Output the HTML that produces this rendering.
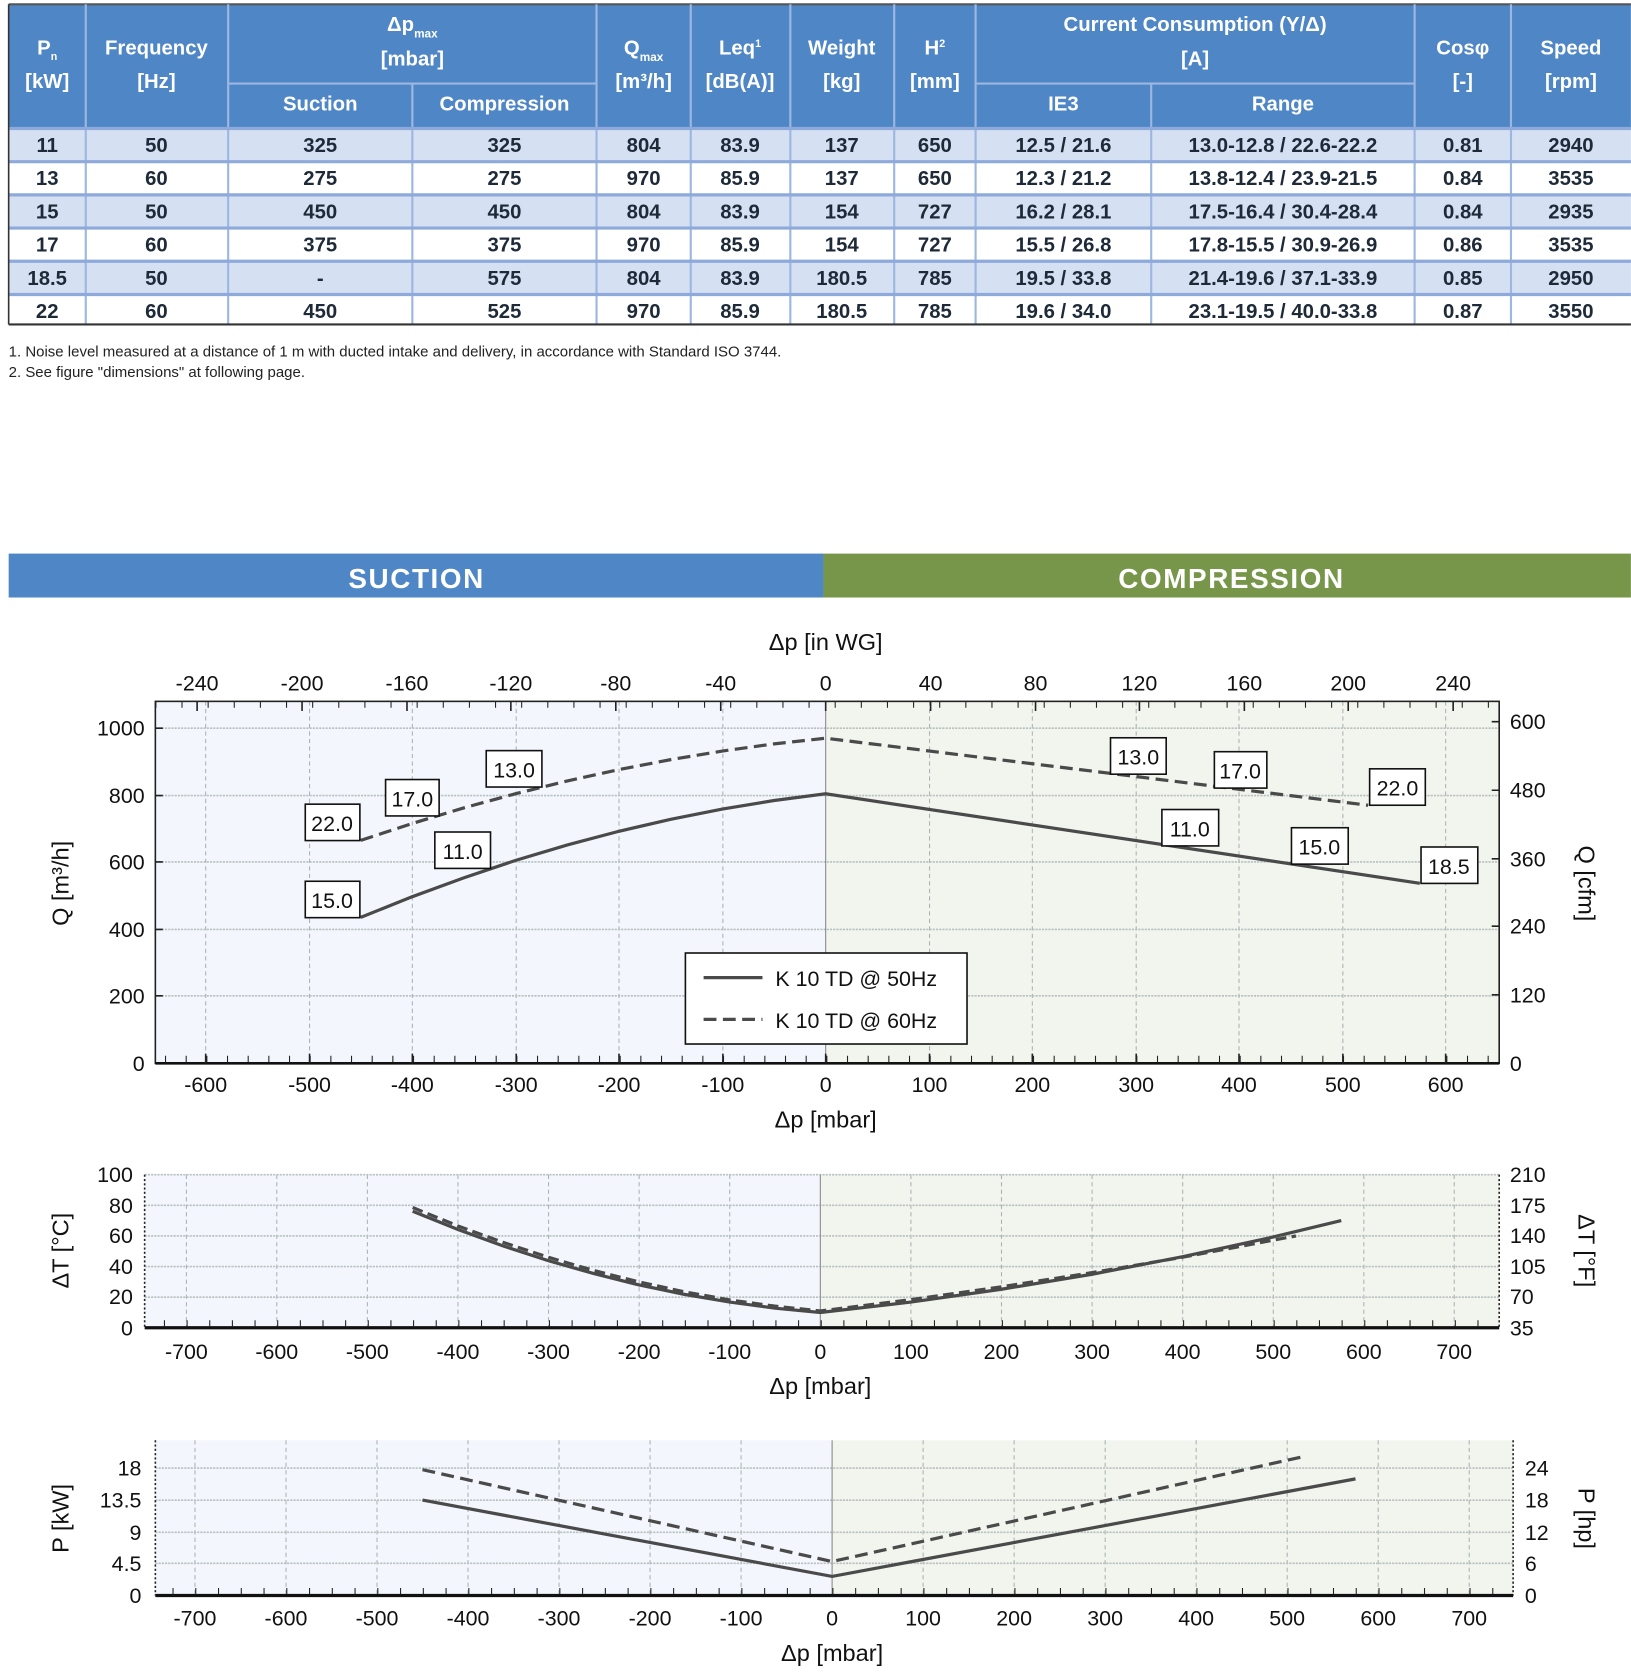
<!DOCTYPE html>
<html><head><meta charset="utf-8"><style>
html,body{margin:0;padding:0;background:#fff;}
svg{display:block;}
text{font-family:"Liberation Sans",sans-serif;}
.h{fill:#fff;font-weight:bold;font-size:19px;text-anchor:middle;}
.d{fill:#1e2a38;font-weight:bold;font-size:19px;text-anchor:middle;}
.t{fill:#111;font-size:20px;}
.lab{fill:#111;font-size:22px;text-anchor:middle;}
</style></head><body>
<svg width="1631" height="1679" viewBox="0 0 1523 1568" xmlns="http://www.w3.org/2000/svg">
<!-- TABLE -->
<rect x="8" y="4" width="1515" height="116" fill="#4f86c6"/>
<rect x="8" y="120" width="1515" height="31" fill="#d6e0f3"/>
<rect x="8" y="182" width="1515" height="31" fill="#d6e0f3"/>
<rect x="8" y="244" width="1515" height="31" fill="#d6e0f3"/>
<line x1="8" y1="4" x2="1523" y2="4" stroke="#555" stroke-width="2"/>
<g stroke="#9db7e0" stroke-width="2">
<line x1="213" y1="78" x2="557" y2="78"/><line x1="911" y1="78" x2="1321" y2="78"/>
<line x1="80" y1="4" x2="80" y2="303"/><line x1="213" y1="4" x2="213" y2="303"/>
<line x1="385" y1="78" x2="385" y2="303"/><line x1="557" y1="4" x2="557" y2="303"/>
<line x1="645" y1="4" x2="645" y2="303"/><line x1="738" y1="4" x2="738" y2="303"/>
<line x1="835" y1="4" x2="835" y2="303"/><line x1="911" y1="4" x2="911" y2="303"/>
<line x1="1075" y1="78" x2="1075" y2="303"/><line x1="1321" y1="4" x2="1321" y2="303"/>
<line x1="1411" y1="4" x2="1411" y2="303"/>
</g>
<g stroke="#8eaadb" stroke-width="3">
<line x1="8" y1="120" x2="1523" y2="120"/><line x1="8" y1="151" x2="1523" y2="151"/>
<line x1="8" y1="182" x2="1523" y2="182"/><line x1="8" y1="213" x2="1523" y2="213"/>
<line x1="8" y1="244" x2="1523" y2="244"/><line x1="8" y1="275" x2="1523" y2="275"/>
</g>
<line x1="8" y1="303" x2="1523" y2="303" stroke="#333" stroke-width="2"/>
<line x1="8" y1="4" x2="8" y2="303" stroke="#333" stroke-width="1.5"/>
<g class="h">
<text x="44" y="51" class="h">P<tspan font-size="10" dy="5">n</tspan></text><text x="44" y="82" class="h">[kW]</text>
<text x="146" y="51" class="h">Frequency</text><text x="146" y="82" class="h">[Hz]</text>
<text x="385" y="29" class="h">Δp<tspan font-size="11" dy="6">max</tspan></text><text x="385" y="61" class="h">[mbar]</text>
<text x="299" y="103" class="h">Suction</text><text x="471" y="103" class="h">Compression</text>
<text x="601" y="51" class="h">Q<tspan font-size="11" dy="6">max</tspan></text><text x="601" y="82" class="h">[m³/h]</text>
<text x="691" y="51" class="h">Leq<tspan font-size="10" dy="-7">1</tspan></text><text x="691" y="82" class="h">[dB(A)]</text>
<text x="786" y="51" class="h">Weight</text><text x="786" y="82" class="h">[kg]</text>
<text x="873" y="51" class="h">H<tspan font-size="10" dy="-7">2</tspan></text><text x="873" y="82" class="h">[mm]</text>
<text x="1116" y="29" class="h">Current Consumption (Y/Δ)</text><text x="1116" y="61" class="h">[A]</text>
<text x="993" y="103" class="h">IE3</text><text x="1198" y="103" class="h">Range</text>
<text x="1366" y="51" class="h">Cosφ</text><text x="1366" y="82" class="h">[-]</text>
<text x="1467" y="51" class="h">Speed</text><text x="1467" y="82" class="h">[rpm]</text>
</g>
<g class="d">
<text x="44" y="142" class="d">11</text><text x="146" y="142" class="d">50</text><text x="299" y="142" class="d">325</text><text x="471" y="142" class="d">325</text><text x="601" y="142" class="d">804</text><text x="691" y="142" class="d">83.9</text><text x="786" y="142" class="d">137</text><text x="873" y="142" class="d">650</text><text x="993" y="142" class="d">12.5 / 21.6</text><text x="1198" y="142" class="d">13.0-12.8 / 22.6-22.2</text><text x="1366" y="142" class="d">0.81</text><text x="1467" y="142" class="d">2940</text>
<text x="44" y="173" class="d">13</text><text x="146" y="173" class="d">60</text><text x="299" y="173" class="d">275</text><text x="471" y="173" class="d">275</text><text x="601" y="173" class="d">970</text><text x="691" y="173" class="d">85.9</text><text x="786" y="173" class="d">137</text><text x="873" y="173" class="d">650</text><text x="993" y="173" class="d">12.3 / 21.2</text><text x="1198" y="173" class="d">13.8-12.4 / 23.9-21.5</text><text x="1366" y="173" class="d">0.84</text><text x="1467" y="173" class="d">3535</text>
<text x="44" y="204" class="d">15</text><text x="146" y="204" class="d">50</text><text x="299" y="204" class="d">450</text><text x="471" y="204" class="d">450</text><text x="601" y="204" class="d">804</text><text x="691" y="204" class="d">83.9</text><text x="786" y="204" class="d">154</text><text x="873" y="204" class="d">727</text><text x="993" y="204" class="d">16.2 / 28.1</text><text x="1198" y="204" class="d">17.5-16.4 / 30.4-28.4</text><text x="1366" y="204" class="d">0.84</text><text x="1467" y="204" class="d">2935</text>
<text x="44" y="235" class="d">17</text><text x="146" y="235" class="d">60</text><text x="299" y="235" class="d">375</text><text x="471" y="235" class="d">375</text><text x="601" y="235" class="d">970</text><text x="691" y="235" class="d">85.9</text><text x="786" y="235" class="d">154</text><text x="873" y="235" class="d">727</text><text x="993" y="235" class="d">15.5 / 26.8</text><text x="1198" y="235" class="d">17.8-15.5 / 30.9-26.9</text><text x="1366" y="235" class="d">0.86</text><text x="1467" y="235" class="d">3535</text>
<text x="44" y="266" class="d">18.5</text><text x="146" y="266" class="d">50</text><text x="299" y="266" class="d">-</text><text x="471" y="266" class="d">575</text><text x="601" y="266" class="d">804</text><text x="691" y="266" class="d">83.9</text><text x="786" y="266" class="d">180.5</text><text x="873" y="266" class="d">785</text><text x="993" y="266" class="d">19.5 / 33.8</text><text x="1198" y="266" class="d">21.4-19.6 / 37.1-33.9</text><text x="1366" y="266" class="d">0.85</text><text x="1467" y="266" class="d">2950</text>
<text x="44" y="297" class="d">22</text><text x="146" y="297" class="d">60</text><text x="299" y="297" class="d">450</text><text x="471" y="297" class="d">525</text><text x="601" y="297" class="d">970</text><text x="691" y="297" class="d">85.9</text><text x="786" y="297" class="d">180.5</text><text x="873" y="297" class="d">785</text><text x="993" y="297" class="d">19.6 / 34.0</text><text x="1198" y="297" class="d">23.1-19.5 / 40.0-33.8</text><text x="1366" y="297" class="d">0.87</text><text x="1467" y="297" class="d">3550</text>
</g>
<text x="8" y="333" font-size="14" fill="#222">1.   Noise level measured at a distance of 1 m with ducted intake and delivery, in accordance with Standard ISO 3744.</text>
<text x="8" y="352" font-size="14" fill="#222">2.   See figure "dimensions" at following page.</text>

<!-- BANNER -->
<rect x="8" y="517" width="761" height="41" fill="#4f86c6"/>
<rect x="769" y="517" width="754" height="41" fill="#77964a"/>
<text x="389" y="549" fill="#fff" font-size="26" font-weight="bold" text-anchor="middle" letter-spacing="1.5">SUCTION</text>
<text x="1150" y="549" fill="#fff" font-size="26" font-weight="bold" text-anchor="middle" letter-spacing="1.5">COMPRESSION</text>

<!-- CHART 1 -->
<rect x="145" y="655" width="626" height="338" fill="#f3f7fd"/>
<rect x="771" y="655" width="629" height="338" fill="#f1f5ee"/>
<g stroke="#aab4b4" stroke-width="1" stroke-dasharray="4 3">
<line x1="192" y1="655" x2="192" y2="993"/><line x1="289" y1="655" x2="289" y2="993"/><line x1="385" y1="655" x2="385" y2="993"/><line x1="482" y1="655" x2="482" y2="993"/><line x1="578" y1="655" x2="578" y2="993"/><line x1="675" y1="655" x2="675" y2="993"/><line x1="868" y1="655" x2="868" y2="993"/><line x1="964" y1="655" x2="964" y2="993"/><line x1="1061" y1="655" x2="1061" y2="993"/><line x1="1157" y1="655" x2="1157" y2="993"/><line x1="1254" y1="655" x2="1254" y2="993"/><line x1="1350" y1="655" x2="1350" y2="993"/>
</g>
<g stroke="#b8c0c0" stroke-width="1.5" stroke-dasharray="2 1">
<line x1="145" y1="680" x2="1400" y2="680"/><line x1="145" y1="743" x2="1400" y2="743"/><line x1="145" y1="805" x2="1400" y2="805"/><line x1="145" y1="868" x2="1400" y2="868"/><line x1="145" y1="930" x2="1400" y2="930"/>
</g>
<line x1="771" y1="655" x2="771" y2="993" stroke="#888" stroke-width="1"/>
<rect x="145" y="655" width="1255" height="338" fill="none" stroke="#222" stroke-width="1.5"/>
<line x1="145" y1="993" x2="1400" y2="993" stroke="#111" stroke-width="2.5"/>
<!-- ticks -->
<g stroke="#222" stroke-width="1.5">
<path d="M192 993v-9M289 993v-9M385 993v-9M482 993v-9M578 993v-9M675 993v-9M771 993v-9M868 993v-9M964 993v-9M1061 993v-9M1157 993v-9M1254 993v-9M1350 993v-9"/>
<path d="M184 655v9M282 655v9M380 655v9M477 655v9M575 655v9M673 655v9M771 655v9M869 655v9M967 655v9M1064 655v9M1162 655v9M1259 655v9M1357 655v9"/>
<path d="M145 680h7M145 743h7M145 805h7M145 868h7M145 930h7M1400 674h-7M1400 738h-7M1400 802h-7M1400 865h-7M1400 929h-7"/>
</g>
<line x1="145" y1="989" x2="1400" y2="989" stroke="#222" stroke-width="6" stroke-dasharray="1 18.3" stroke-dashoffset="-9"/>
<line x1="145" y1="658" x2="1400" y2="658" stroke="#222" stroke-width="6" stroke-dasharray="1 23.4"/>
<g class="t" text-anchor="middle">
<text x="192" y="1020">-600</text><text x="289" y="1020">-500</text><text x="385" y="1020">-400</text><text x="482" y="1020">-300</text><text x="578" y="1020">-200</text><text x="675" y="1020">-100</text><text x="771" y="1020">0</text><text x="868" y="1020">100</text><text x="964" y="1020">200</text><text x="1061" y="1020">300</text><text x="1157" y="1020">400</text><text x="1254" y="1020">500</text><text x="1350" y="1020">600</text>
<text x="184" y="645">-240</text><text x="282" y="645">-200</text><text x="380" y="645">-160</text><text x="477" y="645">-120</text><text x="575" y="645">-80</text><text x="673" y="645">-40</text><text x="771" y="645">0</text><text x="869" y="645">40</text><text x="967" y="645">80</text><text x="1064" y="645">120</text><text x="1162" y="645">160</text><text x="1259" y="645">200</text><text x="1357" y="645">240</text>
</g>
<g class="t" text-anchor="end">
<text x="135" y="687">1000</text><text x="135" y="750">800</text><text x="135" y="812">600</text><text x="135" y="875">400</text><text x="135" y="937">200</text><text x="135" y="1000">0</text>
</g>
<g class="t" text-anchor="start">
<text x="1410" y="681">600</text><text x="1410" y="745">480</text><text x="1410" y="809">360</text><text x="1410" y="872">240</text><text x="1410" y="936">120</text><text x="1410" y="1000">0</text>
</g>
<text x="771" y="607" class="lab">Δp [in WG]</text>
<text x="771" y="1053" class="lab">Δp [mbar]</text>
<text transform="translate(64,825) rotate(-90)" class="lab">Q [m³/h]</text>
<text transform="translate(1474,825) rotate(90)" class="lab">Q [cfm]</text>
<g fill="none" stroke="#4a4a4a" stroke-width="3">
<polyline points="336.8,856.7 385,837.4 433.3,819.7 481.5,803.5 529.8,789.1 578,776.3 626.3,765.1 674.5,755.6 722.8,747.6 771,741.3 1325.9,824.9"/>
<polyline stroke-dasharray="12 6" points="336.8,784.8 385,769 433.3,754.4 481.5,741.2 529.8,729.3 578,718.7 626.3,709.4 674.5,701.4 722.8,694.7 771,689.4 1277.6,752"/>
</g>
<g fill="#fff" stroke="#111" stroke-width="1.5">
<rect x="285" y="823" width="51" height="34"/><rect x="285" y="751" width="51" height="34"/><rect x="360" y="728" width="50" height="34"/><rect x="454" y="701" width="52" height="34"/><rect x="406" y="777" width="52" height="34"/>
<rect x="1037" y="689" width="52" height="34"/><rect x="1134" y="702" width="49" height="34"/><rect x="1279" y="718" width="52" height="34"/><rect x="1085" y="756" width="53" height="34"/><rect x="1206" y="773" width="53" height="34"/><rect x="1327" y="791" width="53" height="34"/>
</g>
<g class="t" text-anchor="middle" font-size="21">
<text x="310" y="848">15.0</text><text x="310" y="776">22.0</text><text x="385" y="753">17.0</text><text x="480" y="726">13.0</text><text x="432" y="802">11.0</text>
<text x="1063" y="714">13.0</text><text x="1158" y="727">17.0</text><text x="1305" y="743">22.0</text><text x="1111" y="781">11.0</text><text x="1232" y="798">15.0</text><text x="1353" y="816">18.5</text>
</g>
<rect x="640" y="890" width="263" height="85" fill="#fff" stroke="#111" stroke-width="1.5"/>
<line x1="657" y1="913" x2="712" y2="913" stroke="#4a4a4a" stroke-width="3"/>
<line x1="657" y1="952" x2="712" y2="952" stroke="#4a4a4a" stroke-width="3" stroke-dasharray="12 6"/>
<text x="724" y="921" class="t" font-size="21">K 10 TD @ 50Hz</text>
<text x="724" y="960" class="t" font-size="21">K 10 TD @ 60Hz</text>

<!-- CHART 2 -->
<rect x="135" y="1097" width="631" height="143" fill="#f3f7fd"/>
<rect x="766" y="1097" width="634" height="143" fill="#f1f5ee"/>
<g stroke="#aab4b4" stroke-width="1" stroke-dasharray="4 3">
<line x1="174" y1="1097" x2="174" y2="1240"/><line x1="258.4" y1="1097" x2="258.4" y2="1240"/><line x1="343" y1="1097" x2="343" y2="1240"/><line x1="427.6" y1="1097" x2="427.6" y2="1240"/><line x1="512.2" y1="1097" x2="512.2" y2="1240"/><line x1="596.8" y1="1097" x2="596.8" y2="1240"/><line x1="681.4" y1="1097" x2="681.4" y2="1240"/><line x1="850.6" y1="1097" x2="850.6" y2="1240"/><line x1="935.2" y1="1097" x2="935.2" y2="1240"/><line x1="1019.8" y1="1097" x2="1019.8" y2="1240"/><line x1="1104.4" y1="1097" x2="1104.4" y2="1240"/><line x1="1189" y1="1097" x2="1189" y2="1240"/><line x1="1273.6" y1="1097" x2="1273.6" y2="1240"/><line x1="1358" y1="1097" x2="1358" y2="1240"/>
</g>
<g stroke="#b8c0c0" stroke-width="1.5" stroke-dasharray="2 1">
<line x1="135" y1="1097" x2="1400" y2="1097"/><line x1="135" y1="1125.6" x2="1400" y2="1125.6"/><line x1="135" y1="1154.2" x2="1400" y2="1154.2"/><line x1="135" y1="1182.8" x2="1400" y2="1182.8"/><line x1="135" y1="1211.4" x2="1400" y2="1211.4"/>
</g>
<line x1="766" y1="1097" x2="766" y2="1240" stroke="#888" stroke-width="1"/>
<line x1="135" y1="1097" x2="135" y2="1240" stroke="#222" stroke-width="1.5" stroke-dasharray="2 2"/>
<line x1="1400" y1="1097" x2="1400" y2="1240" stroke="#222" stroke-width="1.5" stroke-dasharray="2 2"/>
<line x1="135" y1="1240" x2="1400" y2="1240" stroke="#111" stroke-width="3"/>
<line x1="135" y1="1236" x2="1400" y2="1236" stroke="#222" stroke-width="6" stroke-dasharray="1 20.15" stroke-dashoffset="-18"/>
<g class="t" text-anchor="middle">
<text x="174" y="1269">-700</text><text x="258.4" y="1269">-600</text><text x="343" y="1269">-500</text><text x="427.6" y="1269">-400</text><text x="512.2" y="1269">-300</text><text x="596.8" y="1269">-200</text><text x="681.4" y="1269">-100</text><text x="766" y="1269">0</text><text x="850.6" y="1269">100</text><text x="935.2" y="1269">200</text><text x="1019.8" y="1269">300</text><text x="1104.4" y="1269">400</text><text x="1189" y="1269">500</text><text x="1273.6" y="1269">600</text><text x="1358" y="1269">700</text>
</g>
<g class="t" text-anchor="end">
<text x="124" y="1104">100</text><text x="124" y="1133">80</text><text x="124" y="1161">60</text><text x="124" y="1190">40</text><text x="124" y="1218">20</text><text x="124" y="1247">0</text>
</g>
<g class="t" text-anchor="start">
<text x="1410" y="1104">210</text><text x="1410" y="1133">175</text><text x="1410" y="1161">140</text><text x="1410" y="1190">105</text><text x="1410" y="1218">70</text><text x="1410" y="1247">35</text>
</g>
<text x="766" y="1302" class="lab">Δp [mbar]</text>
<text transform="translate(64,1168) rotate(-90)" class="lab">ΔT [°C]</text>
<text transform="translate(1474,1168) rotate(90)" class="lab">ΔT [°F]</text>
<g fill="none" stroke="#4a4a4a" stroke-width="3">
<polyline points="385.3,1131.2 427.6,1148.2 469.9,1163.6 512.2,1177.4 554.5,1189.4 596.8,1200 639.1,1208.8 681.4,1216 723.7,1221.7 766,1225.7 850.6,1216 935.2,1204 1019.8,1190 1104.4,1173.6 1189,1155.2 1252.5,1139.9"/>
<polyline stroke-dasharray="10 5" points="385.3,1127.7 427.6,1144.9 469.9,1160.3 512.2,1174.2 554.5,1186.5 596.8,1197.2 639.1,1206.4 681.4,1214 723.7,1219.8 766,1224.3 850.6,1213.7 935.2,1201.7 1019.8,1188.5 1104.4,1174.1 1210.2,1154.2"/>
</g>

<!-- CHART 3 -->
<rect x="145" y="1345" width="632" height="145" fill="#f3f7fd"/>
<rect x="777" y="1345" width="636" height="145" fill="#f1f5ee"/>
<g stroke="#aab4b4" stroke-width="1" stroke-dasharray="4 3">
<line x1="182" y1="1345" x2="182" y2="1490"/><line x1="267" y1="1345" x2="267" y2="1490"/><line x1="352" y1="1345" x2="352" y2="1490"/><line x1="437" y1="1345" x2="437" y2="1490"/><line x1="522" y1="1345" x2="522" y2="1490"/><line x1="607" y1="1345" x2="607" y2="1490"/><line x1="692" y1="1345" x2="692" y2="1490"/><line x1="862" y1="1345" x2="862" y2="1490"/><line x1="947" y1="1345" x2="947" y2="1490"/><line x1="1032" y1="1345" x2="1032" y2="1490"/><line x1="1117" y1="1345" x2="1117" y2="1490"/><line x1="1202" y1="1345" x2="1202" y2="1490"/><line x1="1287" y1="1345" x2="1287" y2="1490"/><line x1="1372" y1="1345" x2="1372" y2="1490"/>
</g>
<g stroke="#b8c0c0" stroke-width="1.5" stroke-dasharray="2 1">
<line x1="145" y1="1371" x2="1413" y2="1371"/><line x1="145" y1="1401" x2="1413" y2="1401"/><line x1="145" y1="1431" x2="1413" y2="1431"/><line x1="145" y1="1460" x2="1413" y2="1460"/>
</g>
<line x1="777" y1="1345" x2="777" y2="1490" stroke="#888" stroke-width="1"/>
<line x1="145" y1="1345" x2="145" y2="1490" stroke="#222" stroke-width="1.5" stroke-dasharray="2 2"/>
<line x1="1413" y1="1345" x2="1413" y2="1490" stroke="#222" stroke-width="1.5" stroke-dasharray="2 2"/>
<line x1="145" y1="1490" x2="1413" y2="1490" stroke="#111" stroke-width="3"/>
<line x1="145" y1="1486" x2="1413" y2="1486" stroke="#222" stroke-width="6" stroke-dasharray="1 20.25" stroke-dashoffset="-16"/>
<g class="t" text-anchor="middle">
<text x="182" y="1518">-700</text><text x="267" y="1518">-600</text><text x="352" y="1518">-500</text><text x="437" y="1518">-400</text><text x="522" y="1518">-300</text><text x="607" y="1518">-200</text><text x="692" y="1518">-100</text><text x="777" y="1518">0</text><text x="862" y="1518">100</text><text x="947" y="1518">200</text><text x="1032" y="1518">300</text><text x="1117" y="1518">400</text><text x="1202" y="1518">500</text><text x="1287" y="1518">600</text><text x="1372" y="1518">700</text>
</g>
<g class="t" text-anchor="end">
<text x="132" y="1378">18</text><text x="132" y="1408">13.5</text><text x="132" y="1438">9</text><text x="132" y="1467">4.5</text><text x="132" y="1497">0</text>
</g>
<g class="t" text-anchor="start">
<text x="1424" y="1378">24</text><text x="1424" y="1408">18</text><text x="1424" y="1438">12</text><text x="1424" y="1467">6</text><text x="1424" y="1497">0</text>
</g>
<text x="777" y="1551" class="lab">Δp [mbar]</text>
<text transform="translate(64,1418) rotate(-90)" class="lab">P [kW]</text>
<text transform="translate(1474,1418) rotate(90)" class="lab">P [hp]</text>
<g fill="none" stroke="#4a4a4a" stroke-width="3">
<polyline points="394.5,1400.9 777,1472.2 1265.8,1381.1"/>
<polyline stroke-dasharray="12 6" points="394.5,1372.5 777,1458.3 1218.5,1360"/>
</g>
</svg>
</body></html>
